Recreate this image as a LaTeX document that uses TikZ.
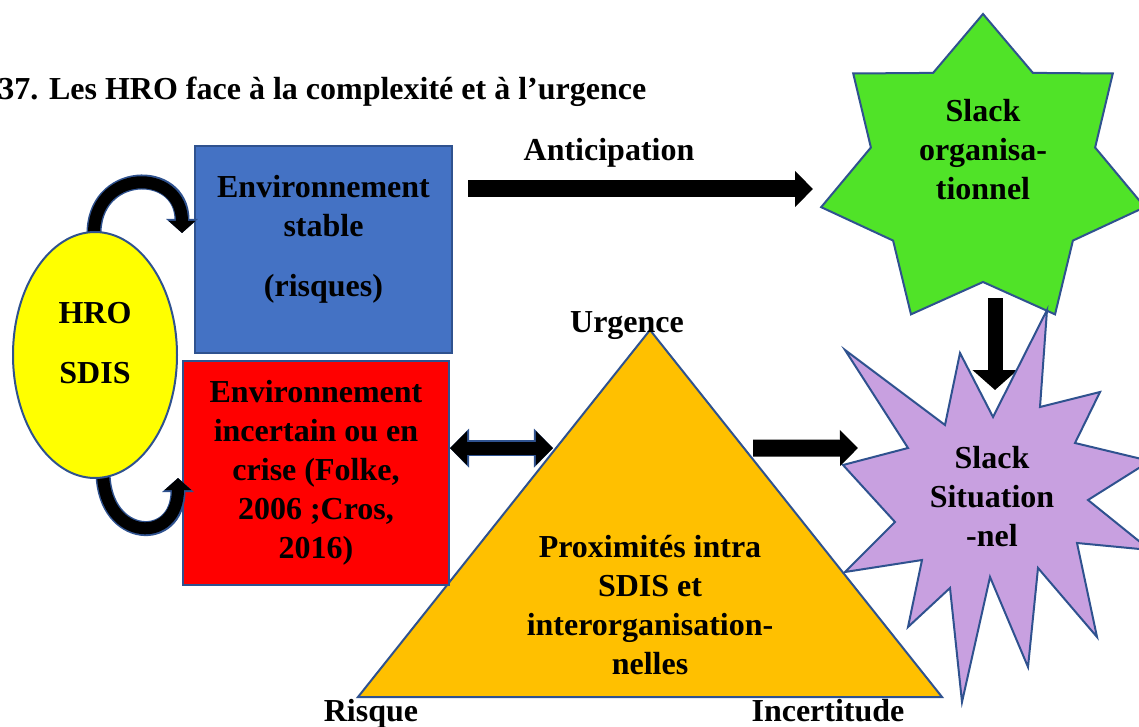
\documentclass[tikz,border=0pt]{standalone}
\usepackage{fontspec}
\setmainfont{Liberation Serif}
\usetikzlibrary{shapes.geometric, arrows.meta, positioning, calc}
\definecolor{frameblue}{RGB}{47,82,143}
\definecolor{boxblue}{RGB}{68,114,196}
\definecolor{hroyellow}{RGB}{255,255,0}
\definecolor{triorange}{RGB}{255,192,0}
\definecolor{slackgreen}{RGB}{80,227,40}
\definecolor{slackviolet}{RGB}{200,160,224}

\begin{document}
\begin{tikzpicture}[
        x=0.5pt, y=-0.5pt,
        every node/.style={font=\bfseries\fontsize{16}{19.5}\selectfont, align=center},
        envbox/.style={rectangle, draw=frameblue, line width=1pt, inner sep=0pt},
        hro/.style={ellipse, draw=frameblue, fill=hroyellow, line width=1pt, minimum width=82pt, minimum height=123pt},
        tri/.style={draw=frameblue, fill=triorange, line width=1pt, line join=miter},
        starshape/.style={draw=frameblue, line width=1pt, line join=miter},
        bigarrow/.style={line width=#1, black, -{Triangle[length=9pt, width=17.5pt]}},
        downarrow/.style={line width=7.5pt, black, -{Triangle[length=10pt, width=22pt]}},
        dblarrow/.style={line width=6.5pt, black, {Triangle[length=8.5pt, width=16.5pt]}-{Triangle[length=8.5pt, width=16.5pt]},
            preaction={draw=frameblue, line width=8pt, {Triangle[length=9.5pt, width=19pt]}-{Triangle[length=9.5pt, width=19pt]}}},
        loopy/.style={line width=6pt, black, -{Triangle[length=6pt, width=13pt]},
            preaction={draw=frameblue, line width=7.5pt, -{Triangle[length=7pt, width=15.5pt]}}}
    ]
        \useasboundingbox (0,0) rectangle (1139,727);

        \node[anchor=base west, inner sep=0pt] (title) at (-2,100) {37. Les HRO face à la complexité et à l’urgence};

        % triangle
        \coordinate (urg) at (650,330);
        \coordinate (ris) at (358,697);
        \coordinate (inc) at (942,697);
        \draw[tri] (urg) -- (inc) -- (ris) -- cycle;
        \node (prox) at (650,605) {Proximités intra\\SDIS et\\interorganisation-\\nelles};
        \node[anchor=base] (urgl) at (627,332) {Urgence};
        \node[anchor=base] (risl) at (371,721) {Risque};
        \node[anchor=base] (incl) at (828,721) {Incertitude};

        % environnements
        \node[envbox, fill=boxblue, minimum width=128.5pt, minimum height=103.5pt,
            label={[yshift=5pt]center:Environnement\\stable\\[10.5pt](risques)}] (stable) at (323.5,249.5) {};
        \node[envbox, fill=red, minimum width=133pt, minimum height=112pt] (crise) at (316,473)
            {Environnement\\incertain ou en\\crise (Folke,\\2006 ;Cros,\\2016)};

        % boucles HRO
        \draw[loopy] (94,236) .. controls (92,168) and (182,166) .. (182,233);
        \draw[loopy] (103,474) .. controls (105,542) and (178,545) .. (178,478);
        \node[hro, label={[yshift=5.75pt]center:HRO\\[10.5pt]SDIS}] (hrosdis) at (95,355) {};

        % fleches
        \coordinate (antS) at (468,189);
        \coordinate (antE) at (813,189);
        \draw[bigarrow=8.5pt] (antS) -- (antE);
        \node[anchor=base] (antl) at (609,161) {Anticipation};

        \coordinate (triL) at ($(urg)!0.322!(ris)$);
        \coordinate (triR) at ($(urg)!0.322!(inc)$);
        \draw[dblarrow] (crise.east |- triL) -- ([xshift=-1.5pt]triL);

        % slack organisationnel
        \coordinate (gc) at (983,172);
        \draw[starshape, fill=slackgreen] ($(gc)+(0,-158)$)
            \foreach \k in {1,...,6} {
                -- ($(gc)+({115*cos(-90+(\k-0.5)*360/7)},{110*sin(-90+(\k-0.5)*360/7)})$)
                -- ($(gc)+({166*cos(-90+\k*360/7)},{158*sin(-90+\k*360/7)})$)
            }
            -- ($(gc)+({115*cos(-90+6.5*360/7)},{110*sin(-90+6.5*360/7)})$) -- cycle;
        \node (org) at (983,150) {Slack\\organisa-\\tionnel};

        \coordinate (orgS) at (995,298);
        \coordinate (sitN) at (995,390);
        \draw[downarrow] (orgS) -- (sitN);

        % slack situationnel
        \draw[starshape, fill=slackviolet] (1047,310) -- (1040,407) -- (1100,392) -- (1075,443)
            -- (1150,461) -- (1088,500) -- (1150,550) -- (1077,543) -- (1097,637) -- (1038,568)
            -- (1028,667) -- (990,577) -- (962,702) -- (950,588) -- (908,627) -- (922,560)
            -- (845,572) -- (895,522) -- (843,465) -- (908,448) -- (845,350) -- (945,425)
            -- (960,353) -- (993,417) -- cycle;
        \node (sit) at (992,497) {Slack\\Situation\\-nel};

        \coordinate (sitW) at (858,448);
        \draw[bigarrow=8.5pt] ([xshift=4.5pt]triR) -- (sitW);
    \end{tikzpicture}
\end{document}
